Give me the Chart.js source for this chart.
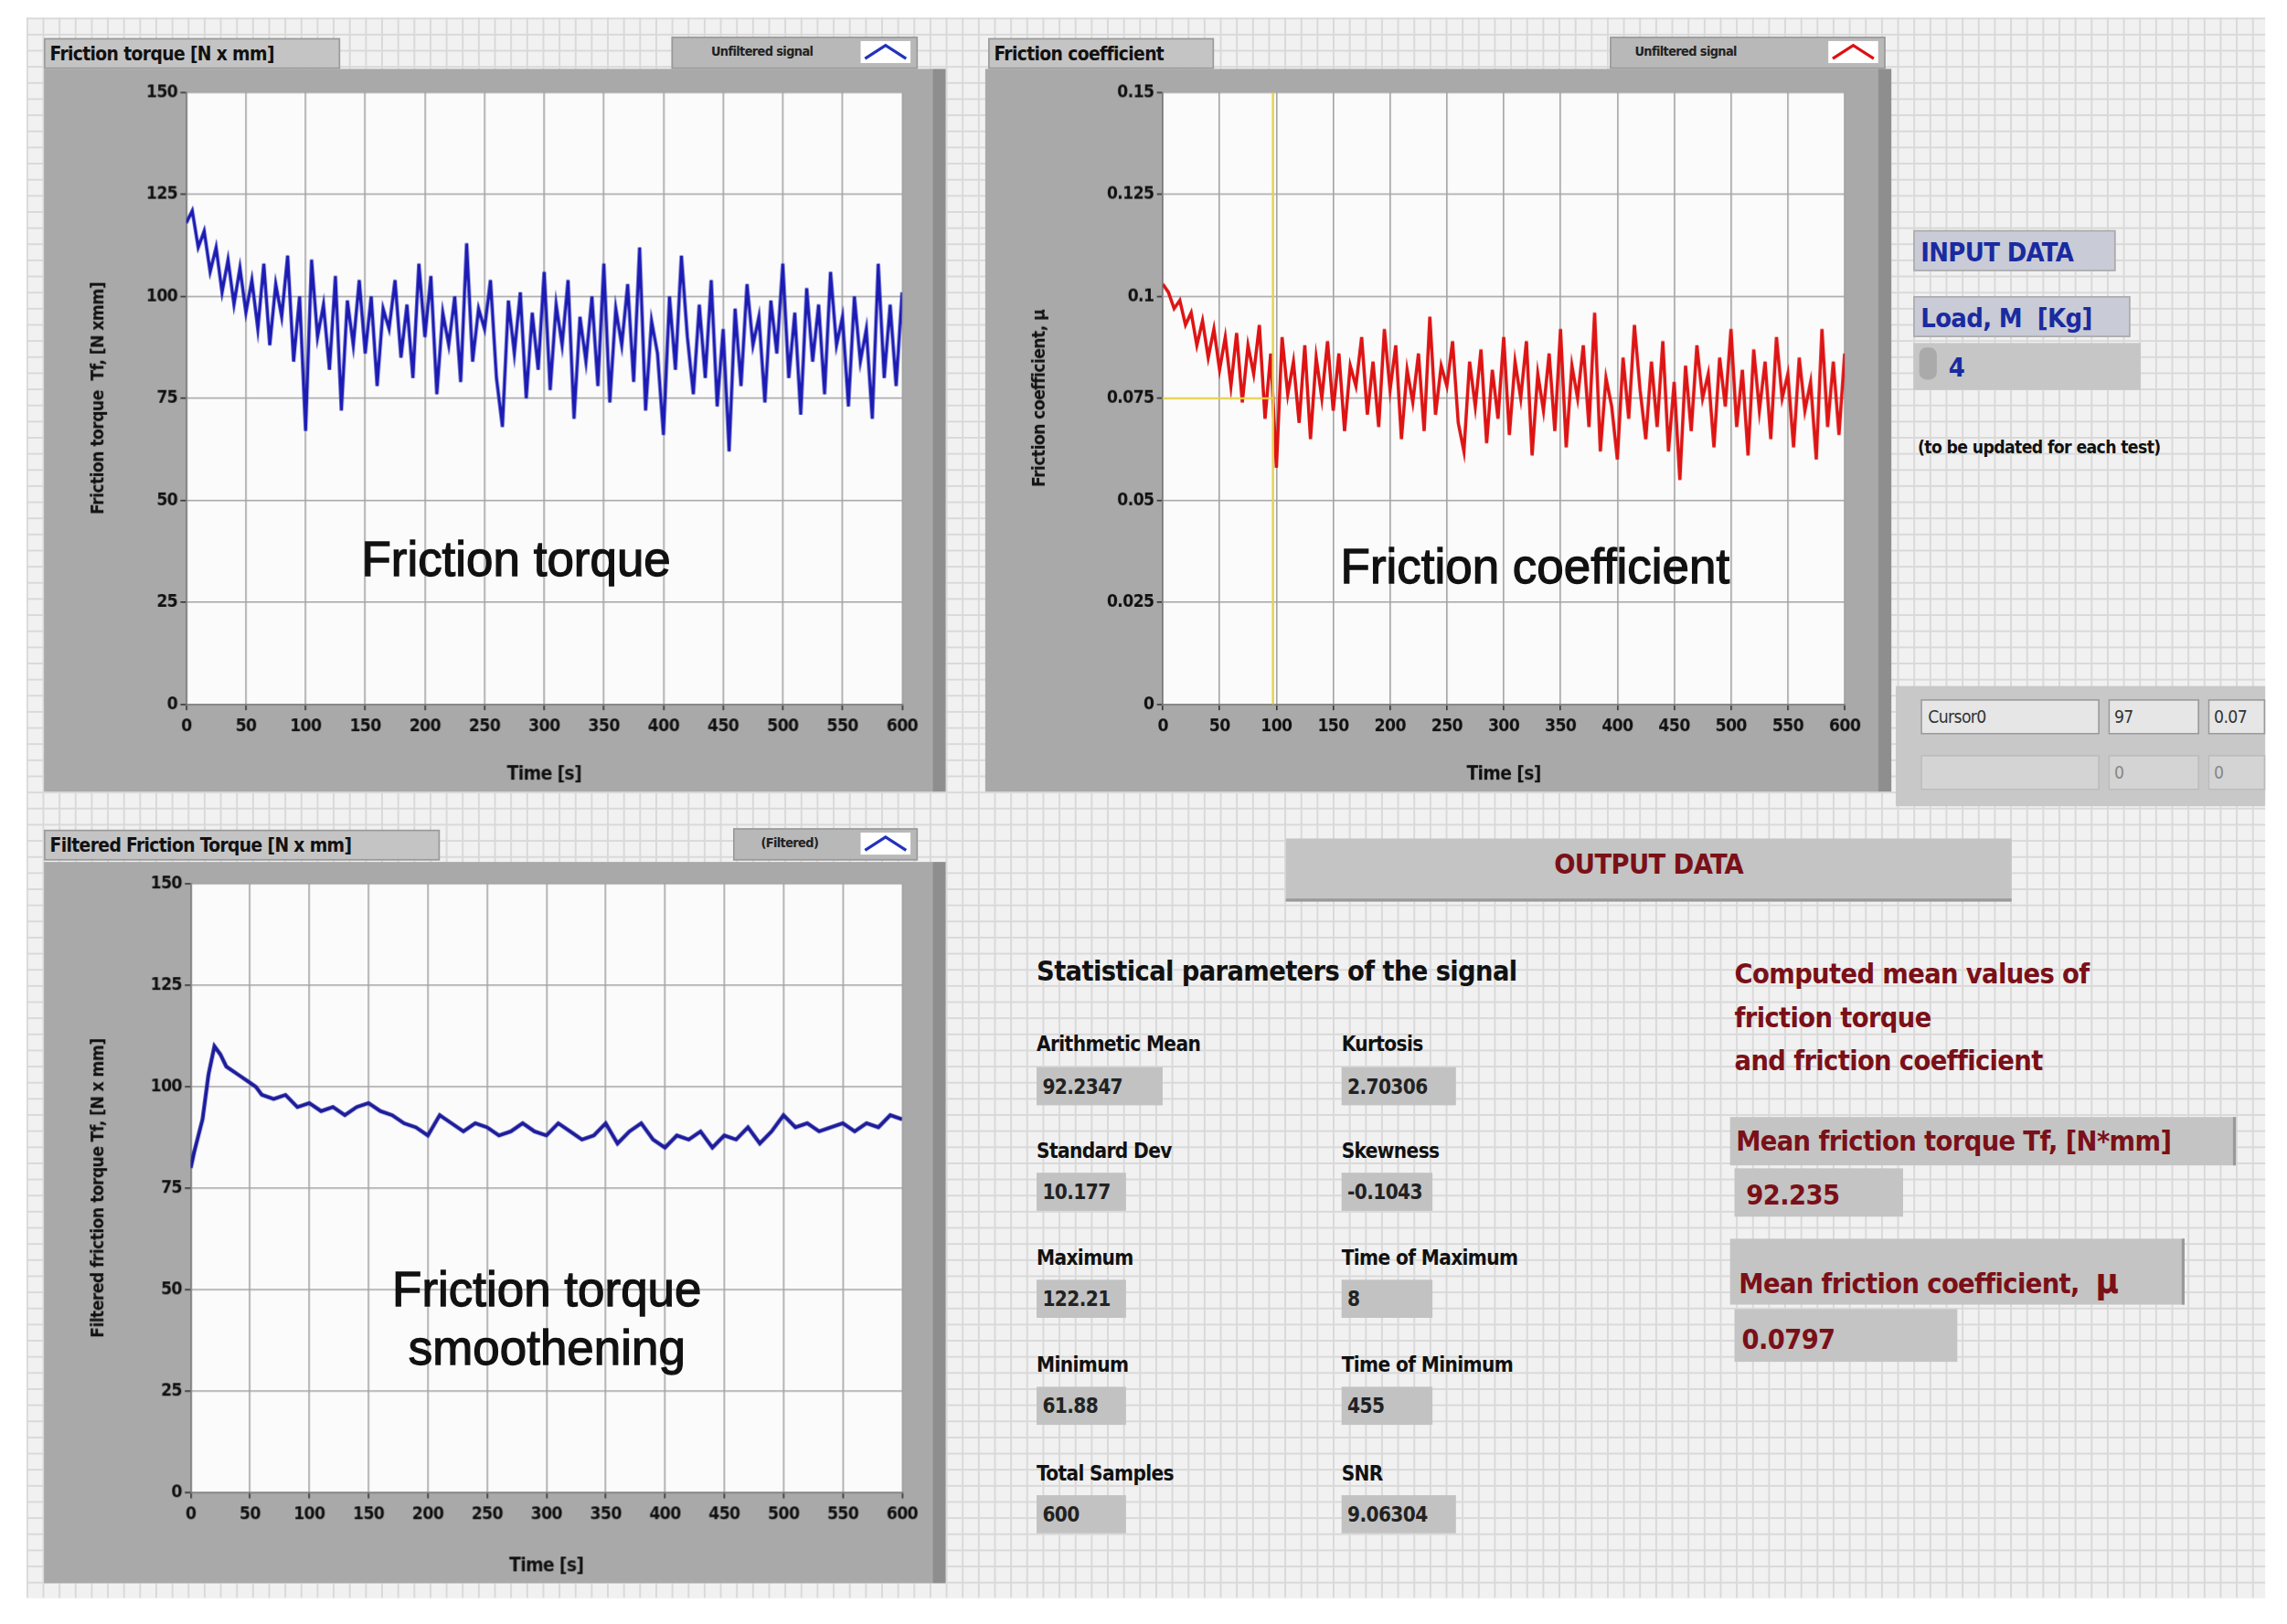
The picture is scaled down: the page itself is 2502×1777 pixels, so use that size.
<!DOCTYPE html>
<html><head><meta charset="utf-8">
<script src="https://cdn.jsdelivr.net/npm/chart.js@4.4.0/dist/chart.umd.min.js"></script>
<style>
html,body{margin:0;padding:0;background:#fff;overflow:hidden}
#root{position:absolute;left:0;top:0;width:1560px;height:1108px;transform:scale(1.604);transform-origin:0 0;font-family:"DejaVu Sans Condensed","Liberation Sans",Arial,sans-serif;font-weight:bold;letter-spacing:-0.4px}
.bg{position:absolute;left:18px;top:12px;width:1527px;height:1078px;background-color:#f1f1f1;
background-image:linear-gradient(#d9d9d9 1px,transparent 1px),linear-gradient(90deg,#d9d9d9 1px,transparent 1px);background-size:11px 11px}
.a{position:absolute;white-space:nowrap}
.lbl{background:#c4c4c4;color:#111;font-size:13px;padding:1px 3px;border:1px solid #999;box-sizing:border-box;line-height:17px}
.leg{background:#b8b8b8;border:1px solid #999;box-sizing:border-box;font-size:9px;color:#222;line-height:19px;padding-left:26px}
.sw{position:absolute;top:2px;right:4px;width:34px;height:15px;background:#fff}
.big{font-family:"Liberation Sans",Arial,sans-serif;font-weight:normal;font-size:33px;color:#111;text-align:center;line-height:40px;-webkit-text-stroke:0.8px #111;letter-spacing:0}
.fld{background:#c2c2c2;font-size:14px;color:#222;padding-left:4px;box-sizing:border-box;line-height:26px;height:26px}
.sl{font-size:14px;color:#111}
.red{color:#7a1018}
canvas{position:absolute}
</style></head><body>
<div id="root">
<div class="bg"></div>
<canvas id="c1" style="left:30px;top:47px"></canvas>
<canvas id="c2" style="left:672px;top:47px"></canvas>
<canvas id="c3" style="left:30px;top:588px"></canvas>

<div class="a lbl" style="left:30px;top:26px;width:202px">Friction torque [N x mm]</div>
<div class="a leg" style="left:458px;top:25px;width:168px;height:22px">Unfiltered signal<div class="sw"><svg width="34" height="15"><polyline points="3,12 17,3 31,12" fill="none" stroke="#2233bb" stroke-width="2"/></svg></div></div>
<div class="a lbl" style="left:674px;top:26px;width:154px">Friction coefficient</div>
<div class="a leg" style="left:1098px;top:25px;width:188px;height:22px;padding-left:16px">Unfiltered signal<div class="sw"><svg width="34" height="15"><polyline points="3,12 17,3 31,12" fill="none" stroke="#dd1111" stroke-width="2"/></svg></div></div>
<div class="a lbl" style="left:30px;top:566px;width:270px">Filtered Friction Torque [N x mm]</div>
<div class="a leg" style="left:500px;top:565px;width:126px;height:22px;padding-left:18px">(Filtered)<div class="sw"><svg width="34" height="15"><polyline points="3,12 17,3 31,12" fill="none" stroke="#2233bb" stroke-width="2"/></svg></div></div>

<div class="a big" style="left:152px;top:362px;width:400px">Friction torque</div>
<div class="a big" style="left:847px;top:367px;width:400px">Friction coefficient</div>
<div class="a big" style="left:173px;top:860px;width:400px">Friction torque<br>smoothening</div>

<div class="a" style="left:1305px;top:157px;width:138px;height:28px;background:#c9cbd6;border:1px solid #aaa;color:#1a2aa0;font-size:18px;line-height:28px;padding-left:4px;box-sizing:border-box">INPUT DATA</div>
<div class="a" style="left:1305px;top:202px;width:148px;height:28px;background:#c9cbd6;border:1px solid #aaa;color:#1a2aa0;font-size:18px;line-height:28px;padding-left:4px;box-sizing:border-box">Load, M&nbsp; [Kg]</div>
<div class="a" style="left:1305px;top:234px;width:155px;height:32px;background:#c6c6c6;color:#1a2aa0;font-size:18px;line-height:34px;padding-left:24px;box-sizing:border-box">4</div>
<div class="a" style="left:1309px;top:237px;width:12px;height:22px;background:#aaa;border-radius:5px"></div>
<div class="a" style="left:1308px;top:298px;font-size:12px;color:#111">(to be updated for each test)</div>

<div class="a" style="left:1293px;top:468px;width:252px;height:82px;background:#c8c8c8"></div>
<div class="a" style="left:1310px;top:477px;width:122px;height:24px;background:#e6e6e6;border:1px solid #999;font-size:12px;font-weight:normal;line-height:22px;padding-left:4px;box-sizing:border-box;color:#333">Cursor0</div>
<div class="a" style="left:1438px;top:477px;width:62px;height:24px;background:#e6e6e6;border:1px solid #999;font-size:12px;font-weight:normal;line-height:22px;padding-left:3px;box-sizing:border-box;color:#333">97</div>
<div class="a" style="left:1506px;top:477px;width:39px;height:24px;background:#e6e6e6;border:1px solid #999;font-size:12px;font-weight:normal;line-height:22px;padding-left:3px;box-sizing:border-box;color:#333;overflow:hidden">0.07</div>
<div class="a" style="left:1310px;top:515px;width:122px;height:24px;background:#d4d4d4;border:1px solid #bbb;box-sizing:border-box"></div>
<div class="a" style="left:1438px;top:515px;width:62px;height:24px;background:#d4d4d4;border:1px solid #bbb;font-size:12px;font-weight:normal;line-height:22px;padding-left:3px;box-sizing:border-box;color:#888">0</div>
<div class="a" style="left:1506px;top:515px;width:39px;height:24px;background:#d4d4d4;border:1px solid #bbb;font-size:12px;font-weight:normal;line-height:22px;padding-left:3px;box-sizing:border-box;color:#888">0</div>

<div class="a red" style="left:877px;top:572px;width:495px;height:43px;background:#c4c4c4;border-bottom:2px solid #999;font-size:19px;line-height:34px;text-align:center;box-sizing:border-box">OUTPUT DATA</div>
<div class="a" style="left:707px;top:651px;font-size:19px;color:#111">Statistical parameters of the signal</div>

<div class="a sl" style="left:707px;top:704px">Arithmetic Mean</div><div class="a fld" style="left:707px;top:728px;width:86px">92.2347</div>
<div class="a sl" style="left:707px;top:777px">Standard Dev</div><div class="a fld" style="left:707px;top:800px;width:61px">10.177</div>
<div class="a sl" style="left:707px;top:850px">Maximum</div><div class="a fld" style="left:707px;top:873px;width:61px;overflow:hidden">122.21</div>
<div class="a sl" style="left:707px;top:923px">Minimum</div><div class="a fld" style="left:707px;top:946px;width:61px">61.88</div>
<div class="a sl" style="left:707px;top:997px">Total Samples</div><div class="a fld" style="left:707px;top:1020px;width:61px">600</div>
<div class="a sl" style="left:915px;top:704px">Kurtosis</div><div class="a fld" style="left:915px;top:728px;width:78px">2.70306</div>
<div class="a sl" style="left:915px;top:777px">Skewness</div><div class="a fld" style="left:915px;top:800px;width:62px">-0.1043</div>
<div class="a sl" style="left:915px;top:850px">Time of Maximum</div><div class="a fld" style="left:915px;top:873px;width:62px">8</div>
<div class="a sl" style="left:915px;top:923px">Time of Minimum</div><div class="a fld" style="left:915px;top:946px;width:62px">455</div>
<div class="a sl" style="left:915px;top:997px">SNR</div><div class="a fld" style="left:915px;top:1020px;width:78px">9.06304</div>

<div class="a red" style="left:1183px;top:650px;font-size:19px;line-height:29.5px">Computed mean values of<br>friction torque<br>and friction coefficient</div>
<div class="a red" style="left:1180px;top:762px;width:345px;height:33px;background:#c4c4c4;border-right:2px solid #999;font-size:19px;line-height:33px;padding-left:4px;box-sizing:border-box">Mean friction torque Tf, [N*mm]</div>
<div class="a red" style="left:1183px;top:797px;width:115px;height:33px;background:#c4c4c4;font-size:19px;line-height:36px;padding-left:8px;box-sizing:border-box">92.235</div>
<div class="a red" style="left:1180px;top:845px;width:310px;height:45px;background:#c4c4c4;border-right:2px solid #999;font-size:19px;line-height:58px;padding-left:6px;box-sizing:border-box">Mean friction coefficient,&nbsp; <span style="font-size:24px">µ</span></div>
<div class="a red" style="left:1183px;top:893px;width:152px;height:36px;background:#c4c4c4;font-size:19px;line-height:40px;padding-left:5px;box-sizing:border-box">0.0797</div>
</div>
<script>
// sample times (s), every 5 s for raw signals
const timeLabels=[0,50,100,150,200,250,300,350,400,450,500,550,600];
const torqueRaw=[118,121,112,116,106,112,101,109,98,107,
96,104,92,108,88,103,95,110,84,100,
67,109,90,98,82,105,72,99,88,104,
86,100,78,97,92,104,85,98,80,108,
90,105,76,96,88,100,79,113,84,97,
92,104,80,68,99,86,101,75,96,82,
106,77,98,88,104,70,95,84,100,78,
108,74,97,88,103,79,112,72,94,86,
66,100,82,110,90,76,98,80,104,73,
92,62,97,78,103,88,95,74,99,86,
108,80,96,71,102,84,98,76,106,88,
95,73,100,84,92,70,108,80,98,78,
101];
const coefRaw=[0.103,0.101,0.097,0.099,0.093,0.096,0.088,0.094,0.085,0.092,
0.082,0.090,0.078,0.091,0.074,0.088,0.081,0.093,0.070,0.086,
0.058,0.090,0.076,0.084,0.069,0.088,0.065,0.085,0.075,0.089,
0.072,0.086,0.067,0.083,0.078,0.090,0.071,0.084,0.068,0.092,
0.077,0.088,0.065,0.082,0.074,0.086,0.067,0.095,0.071,0.083,
0.078,0.089,0.069,0.062,0.084,0.073,0.087,0.064,0.082,0.070,
0.090,0.066,0.084,0.075,0.089,0.061,0.081,0.072,0.086,0.067,
0.092,0.063,0.083,0.075,0.088,0.068,0.096,0.062,0.080,0.073,
0.060,0.085,0.070,0.093,0.077,0.065,0.084,0.068,0.089,0.062,
0.079,0.055,0.083,0.067,0.088,0.075,0.081,0.063,0.085,0.073,
0.092,0.068,0.082,0.061,0.087,0.072,0.084,0.065,0.090,0.075,
0.081,0.063,0.085,0.072,0.079,0.060,0.092,0.068,0.084,0.066,
0.086];
const filtTime=[0,3,10,15,20,25,30,40,50,55,60,70,80,90,100,110,120,130,140,150,160,170,180,190,200,210,220,230,240,250,260,270,280,290,300,310,320,330,340,350,360,370,380,390,400,410,420,430,440,450,460,470,480,490,500,510,520,530,540,550,560,570,580,590,600];
const filtTorque=[80,84,92,103,110,108,105,103,101,100,98,97,98,95,96,94,95,93,95,96,94,93,91,90,88,93,91,89,91,90,88,89,91,89,88,91,89,87,88,91,86,89,91,87,85,88,87,89,85,88,87,90,86,89,93,90,91,89,90,91,89,91,90,93,92];
const cursorX=97, cursorY=0.075;

const S=1.604;
const FF='"DejaVu Sans Condensed","Liberation Sans",Arial';
const tickFont={family:FF,size:12,weight:'bold'};
const frame={id:'frame',beforeDraw(c){const g=c.ctx,a=c.chartArea;g.save();g.fillStyle='#a9a9a9';g.fillRect(0,0,c.width,c.height);
g.fillStyle='#8e8e8e';g.fillRect(c.width-9,0,9,c.height);
g.fillStyle='#fbfbfb';g.fillRect(a.left,a.top,a.right-a.left,a.bottom-a.top);g.restore();}};
const cursor={id:'cursor',afterDatasetsDraw(c,args,o){if(!o.on)return;const g=c.ctx,a=c.chartArea;const x=c.scales.x.getPixelForValue(cursorX),y=c.scales.y.getPixelForValue(cursorY);
g.save();g.strokeStyle='#e6d24a';g.lineWidth=1.5;g.beginPath();g.moveTo(x,a.top);g.lineTo(x,a.bottom);g.moveTo(a.left,y);g.lineTo(x,y);g.stroke();g.restore();}};

function mk(id,w,h,pts,color,lw,ymax,ystep,ytitle,yw,xh,top,right,dec,cur,padL){
 const el=document.getElementById(id);el.width=w;el.height=h;el.style.width=w+'px';el.style.height=h+'px';
 new Chart(el,{type:'line',data:{datasets:[{data:pts,borderColor:color,borderWidth:lw,pointRadius:0,tension:0}]},
 options:{responsive:false,animation:false,devicePixelRatio:S,layout:{padding:{top:top,right:right,left:padL,bottom:0}},
  plugins:{legend:{display:false},tooltip:{enabled:false},cursor:{on:cur}},
  scales:{x:{type:'linear',min:0,max:600,afterFit(s){s.height=xh;},afterBuildTicks(s){s.ticks=timeLabels.map(v=>({value:v}));},
    grid:{color:'#a4a4a4',lineWidth:1,tickLength:4,tickColor:'#333'},border:{color:'#777'},
    ticks:{color:'#111',font:tickFont,maxRotation:0,autoSkip:false,padding:4},
    title:{display:true,text:'Time [s]',color:'#111',font:{...tickFont,size:13},padding:{top:4}}},
   y:{min:0,max:ymax,afterFit(s){s.width=yw-padL;},grid:{color:'#a4a4a4',lineWidth:1,tickLength:4,tickColor:'#333'},border:{color:'#777'},
    ticks:{stepSize:ystep,color:'#111',font:tickFont,padding:2,callback:v=>dec?(+v.toFixed(3)).toString():v},
    title:{display:true,text:ytitle,color:'#111',font:{...tickFont,size:12},padding:{bottom:4}}}}},
 plugins:[frame,cursor]});
}
const p1=torqueRaw.map((v,i)=>({x:i*5,y:v}));
const p2=coefRaw.map((v,i)=>({x:i*5,y:v}));
const p3=filtTorque.map((v,i)=>({x:filtTime[i],y:v}));
mk('c1',615,493,p1,'#1c1cb4',2.2,150,25,'Friction torque  Tf, [N xmm]',97,60,16,30,false,false,26);
mk('c2',618,493,p2,'#de1414',2.2,0.15,0.025,'Friction coefficient, µ',121,60,16,32,true,true,26);
mk('c3',615,492,p3,'#1c1c9c',2.6,150,25,'Filtered friction torque Tf, [N x mm]',100,62,15,30,false,false,26);
</script>
</body></html>
